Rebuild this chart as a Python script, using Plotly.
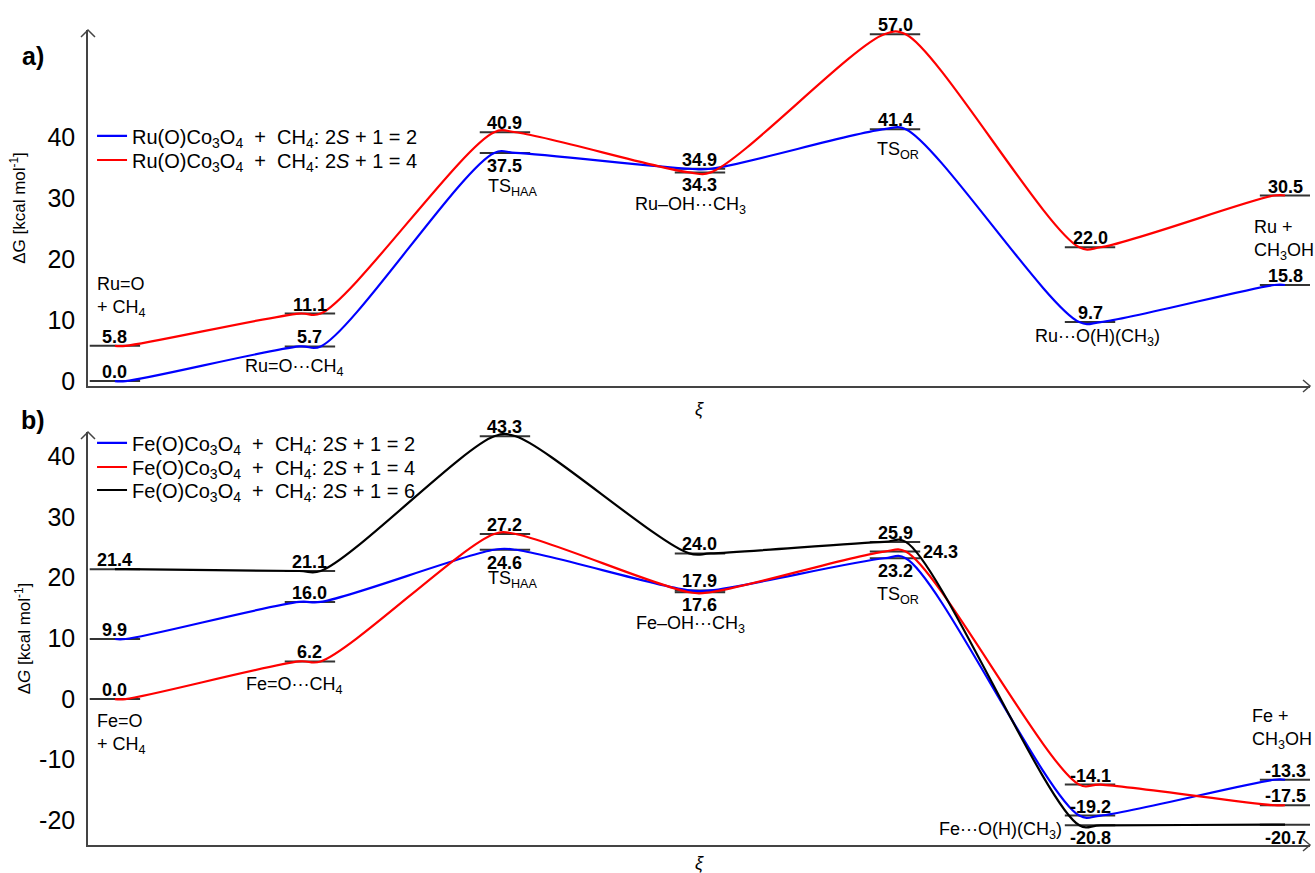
import plotly.graph_objects as go

# ---------------- data ----------------
stage_idx = [0, 1, 2, 3, 4, 5, 6]

ru_doublet = [0.0, 5.7, 37.5, 34.9, 41.4, 9.7, 15.8]
ru_quartet = [5.8, 11.1, 40.9, 34.3, 57.0, 22.0, 30.5]

fe_doublet = [9.9, 16.0, 24.6, 17.9, 23.2, -19.2, -13.3]
fe_quartet = [0.0, 6.2, 27.2, 17.6, 24.3, -14.1, -17.5]
fe_sextet = [21.4, 21.1, 43.3, 24.0, 25.9, -20.8, -20.7]

ru_names = [
    "Ru(O)Co<sub>3</sub>O<sub>4</sub>\u00a0\u00a0+\u00a0\u00a0CH<sub>4</sub>: 2<i>S</i> + 1 = 2",
    "Ru(O)Co<sub>3</sub>O<sub>4</sub>\u00a0\u00a0+\u00a0\u00a0CH<sub>4</sub>: 2<i>S</i> + 1 = 4",
]
fe_names = [
    "Fe(O)Co<sub>3</sub>O<sub>4</sub>\u00a0\u00a0+\u00a0\u00a0CH<sub>4</sub>: 2<i>S</i> + 1 = 2",
    "Fe(O)Co<sub>3</sub>O<sub>4</sub>\u00a0\u00a0+\u00a0\u00a0CH<sub>4</sub>: 2<i>S</i> + 1 = 4",
    "Fe(O)Co<sub>3</sub>O<sub>4</sub>\u00a0\u00a0+\u00a0\u00a0CH<sub>4</sub>: 2<i>S</i> + 1 = 6",
]

ya_ticks = [0, 10, 20, 30, 40]
yb_ticks = [-20, -10, 0, 10, 20, 30, 40]
yb_ticktext = ["-20", "-10", "0", "10", "20", "30", "40"]

# ---------------- style / layout constants ----------------
FONT = "Liberation Sans, Arial, sans-serif"
BLUE = "#0000ff"
RED = "#ff0000"
BLACK = "#000000"
BAR = "#333333"
AXIS = "#444444"
FLAT = 0.055         # half width of flat part of curve at each stationary point
SMOOTH = 1.0

XR = [-0.138, 6.128]
YRA = [-0.8, 57.7]
YRB = [-24.05, 44.0]
DOM_A = [0.5632, 1.0]
DOM_B = [0.0, 0.5067]

# label placement: a=above, b=below, r=right
pos_ru_d = ["a", "a", "b", "a", "a", "a", "a"]
pos_ru_q = ["a", "a", "a", "b", "a", "a", "a"]
pos_fe_d = ["a", "a", "b", "a", "b", "a", "a"]
pos_fe_q = ["a", "a", "a", "b", "r", "a", "a"]
pos_fe_s = ["a", "a", "a", "a", "a", "b", "b"]


def flat_path(xs, vals):
    """Each stationary point is held level across a short plateau; the library's
    spline joins the plateaus."""
    px, py = [], []
    n = len(xs)
    for k, (x, v) in enumerate(zip(xs, vals)):
        if k == 0:
            offs = [0, FLAT]
        elif k == n - 1:
            offs = [-FLAT, 0]
        else:
            offs = [-FLAT, FLAT]
        px += [x + o for o in offs]
        py += [v] * len(offs)
    return px, py


fig = go.Figure()

series_a = [(ru_doublet, BLUE, ru_names[0], pos_ru_d, "legend", 0.870),
            (ru_quartet, RED, ru_names[1], pos_ru_q, "legend2", 0.8405)]
series_b = [(fe_doublet, BLUE, fe_names[0], pos_fe_d, "legend3", 0.4933),
            (fe_quartet, RED, fe_names[1], pos_fe_q, "legend4", 0.4638),
            (fe_sextet, BLACK, fe_names[2], pos_fe_s, "legend5", 0.4356)]

annotations = []
legends = {}

for series, xa, ya in [(series_a, "x", "y"), (series_b, "x2", "y2")]:
    # stationary point bars
    for vals, col, name, pos, leg, ly in series:
        fig.add_trace(go.Scatter(
            x=stage_idx, y=vals, mode="markers", xaxis=xa, yaxis=ya,
            marker=dict(symbol="line-ew", size=36, line=dict(width=2, color=BAR)),
            showlegend=False, hoverinfo="skip"))
    # smooth curves
    for vals, col, name, pos, leg, ly in series:
        cx, cy = flat_path(stage_idx, vals)
        fig.add_trace(go.Scatter(
            x=cx, y=cy, mode="lines", xaxis=xa, yaxis=ya, name=name, legend=leg,
            line=dict(color=col, width=2.2, shape="spline", smoothing=SMOOTH)))
        legends[leg] = dict(x=0.0033, y=ly, xanchor="left", yanchor="middle",
                            font=dict(size=20), bgcolor="rgba(0,0,0,0)", itemwidth=30)
    # value labels
    for vals, col, name, pos, leg, ly in series:
        for i, v, p in zip(stage_idx, vals, pos):
            a = dict(x=i, y=v, xref=xa, yref=ya, text="<b>%.1f</b>" % v, showarrow=False,
                     font=dict(family=FONT, size=18, color="black"))
            if p == "a":
                a.update(xanchor="center", yanchor="bottom", yshift=-3)
            elif p == "b":
                a.update(xanchor="center", yanchor="top", yshift=-1)
            else:
                a.update(xanchor="left", yanchor="middle", xshift=26)
            annotations.append(a)

# stage names
stage_a = [
    ("Ru=O<br>+ CH<sub>4</sub>", -0.103, 13.9, "left"),
    ("Ru=O\u00b7\u00b7\u00b7CH<sub>4</sub>", 0.923, 2.3, "center"),
    ("TS<sub>HAA</sub>", 1.903, 31.85, "left"),
    ("Ru\u2013OH\u00b7\u00b7\u00b7CH<sub>3</sub>", 2.949, 28.9, "center"),
    ("TS<sub>OR</sub>", 3.897, 37.96, "left"),
    ("Ru\u00b7\u00b7\u00b7O(H)(CH<sub>3</sub>)", 5.036, 7.23, "center"),
    ("Ru +<br>CH<sub>3</sub>OH", 5.831, 23.2, "left"),
]
stage_b = [
    ("Fe=O<br>+ CH<sub>4</sub>", -0.103, -5.77, "left"),
    ("Fe=O\u00b7\u00b7\u00b7CH<sub>4</sub>", 0.923, 2.31, "center"),
    ("TS<sub>HAA</sub>", 1.903, 19.7, "left"),
    ("Fe\u2013OH\u00b7\u00b7\u00b7CH<sub>3</sub>", 2.949, 12.36, "center"),
    ("TS<sub>OR</sub>", 3.897, 17.13, "left"),
    ("Fe\u00b7\u00b7\u00b7O(H)(CH<sub>3</sub>)", 4.867, -21.6, "right"),
    ("Fe +<br>CH<sub>3</sub>OH", 5.82, -4.94, "left"),
]
for lst, xa, ya in [(stage_a, "x", "y"), (stage_b, "x2", "y2")]:
    for txt, x, y, anc in lst:
        annotations.append(dict(x=x, y=y, xref=xa, yref=ya, text=txt, showarrow=False,
                                xanchor=anc, yanchor="middle", align="left",
                                font=dict(family=FONT, size=18, color="black")))

# panel letters
annotations.append(dict(x=-0.045, y=0.968, xref="paper", yref="paper", text="<b>a)</b>",
                        showarrow=False, xanchor="center", yanchor="middle",
                        font=dict(family=FONT, size=25, color="black")))
annotations.append(dict(x=-0.045, y=0.521, xref="paper", yref="paper", text="<b>b)</b>",
                        showarrow=False, xanchor="center", yanchor="middle",
                        font=dict(family=FONT, size=25, color="black")))

# arrow chevrons on axis ends (paper refs so they are not clipped)
shapes = []
for dom in [DOM_A, DOM_B]:
    shapes.append(dict(type="path", xref="paper", yref="paper", xsizemode="pixel", ysizemode="pixel",
                       xanchor=0, yanchor=dom[1], path="M-7,-7 L0,0 L7,-7",
                       line=dict(color=AXIS, width=1.5)))
    shapes.append(dict(type="path", xref="paper", yref="paper", xsizemode="pixel", ysizemode="pixel",
                       xanchor=1, yanchor=dom[0], path="M-7,6 L0,0 L-7,-6",
                       line=dict(color=AXIS, width=1.5)))

axis_common = dict(showline=True, linecolor=AXIS, linewidth=1.5, showgrid=False, zeroline=False,
                   ticks="", mirror=False, automargin=False)

fig.update_layout(
    width=1315, height=873,
    margin=dict(l=88, r=5, t=30, b=28, autoexpand=False),
    plot_bgcolor="white", paper_bgcolor="white",
    font=dict(family=FONT, color="black"),
    xaxis=dict(domain=[0, 1], range=XR, anchor="y", showticklabels=False,
               title=dict(text="<i>\u03be</i>", font=dict(size=18), standoff=16), **axis_common),
    yaxis=dict(domain=DOM_A, range=YRA, anchor="x", tickvals=ya_ticks,
               tickfont=dict(size=25), ticklabelstandoff=6,
               title=dict(text="\u0394G [kcal mol<sup>-1</sup>]", font=dict(size=17), standoff=17),
               **axis_common),
    xaxis2=dict(domain=[0, 1], range=XR, anchor="y2", showticklabels=False,
                title=dict(text="<i>\u03be</i>", font=dict(size=18), standoff=16), **axis_common),
    yaxis2=dict(domain=DOM_B, range=YRB, anchor="x2", tickvals=yb_ticks, ticktext=yb_ticktext,
                tickfont=dict(size=25), ticklabelstandoff=6,
                title=dict(text="\u0394<i>G</i> [kcal mol<sup>-1</sup>]", font=dict(size=17), standoff=4),
                **axis_common),
    annotations=annotations,
    shapes=shapes,
    **legends,
)

fig.write_html("out.html", config={"displayModeBar": False},
               post_script="document.body.style.margin='0';document.body.style.overflow='hidden';")
